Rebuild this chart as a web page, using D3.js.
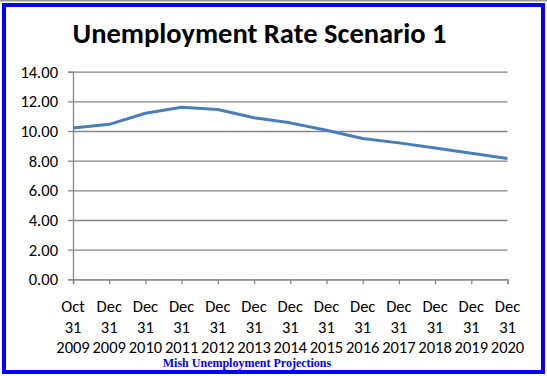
<!DOCTYPE html>
<html><head><meta charset="utf-8">
<script src="https://cdn.jsdelivr.net/npm/d3@7"></script>
<style>body{margin:0;background:#fff;} svg{display:block;}</style>
</head><body>
<script>
const months = ["Oct","Dec","Dec","Dec","Dec","Dec","Dec","Dec","Dec","Dec","Dec","Dec","Dec"];
const days = ["31","31","31","31","31","31","31","31","31","31","31","31","31"];
const years = ["2009","2009","2010","2011","2012","2013","2014","2015","2016","2017","2018","2019","2020"];
const rates = [10.2,10.45,11.2,11.6,11.45,10.9,10.55,10.05,9.5,9.2,8.85,8.5,8.15];
const yTicks = [0,2,4,6,8,10,12,14];
const title = "Unemployment Rate Scenario 1";
const subtitle = "Mish Unemployment Projections";

const W=547,H=376;
const svg=d3.select("body").append("svg").attr("width",W).attr("height",H);
svg.append("rect").attr("width",W).attr("height",H).attr("fill","#fff");
svg.append("line").attr("x1",0).attr("x2",W).attr("y1",0.5).attr("y2",0.5).attr("stroke","#9a9a9a").attr("stroke-width",2);
svg.append("rect").attr("x",4).attr("y",5).attr("width",539).attr("height",367)
  .attr("fill","#fff").attr("stroke","#0000ff").attr("stroke-width",4);

const L=73,R=507.5,T=71.7,B=279.3;
const x=d3.scalePoint().domain(d3.range(rates.length)).range([L,R]);
const y=d3.scaleLinear().domain([0,14]).range([B,T]);

const font="Carlito, Calibri, Lato, 'Open Sans', sans-serif";
svg.append("text").attr("x",259.5).attr("y",43).attr("text-anchor","middle")
  .attr("font-family",font).attr("font-weight","bold").attr("font-size",28.5).attr("fill","#000").text(title);

// gridlines
const grid=svg.append("g").attr("transform",`translate(${L},0)`)
  .call(d3.axisLeft(y).tickValues(yTicks).tickSize(-(R-L)).tickFormat(""));
grid.select(".domain").remove();
grid.selectAll(".tick line").attr("stroke","#868686").attr("stroke-width",1.3);

const gy=svg.append("g").attr("transform",`translate(${L},0)`)
  .call(d3.axisLeft(y).tickValues(yTicks).tickSize(5).tickFormat(d3.format(".2f")).tickPadding(10));
gy.select(".domain").attr("stroke","#868686").attr("stroke-width",1.3);
gy.selectAll(".tick line").attr("stroke","#868686").attr("stroke-width",1.3);
gy.selectAll(".tick text").attr("font-family",font).attr("font-size",16.5).attr("fill","#000").attr("dy","0.34em");

const gx=svg.append("g").attr("transform",`translate(0,${B})`).call(d3.axisBottom(x).tickSize(5).tickFormat(""));
gx.select(".domain").attr("stroke","#868686").attr("stroke-width",1.3);
gx.selectAll(".tick line").attr("stroke","#868686").attr("stroke-width",1.3);

const lab=svg.append("g").attr("font-family",font).attr("font-size",16.5).attr("fill","#000").attr("text-anchor","middle");
[months,days,years].forEach((arr,r)=>{
  lab.selectAll(null).data(arr).enter().append("text")
    .attr("x",(d,i)=>x(i)).attr("y",312+r*20.5).text(d=>d);
});

svg.append("path").datum(rates)
  .attr("d",d3.line().x((d,i)=>x(i)).y(d=>y(d)))
  .attr("fill","none").attr("stroke","#4a7ebb").attr("stroke-width",3).attr("stroke-linejoin","round");

svg.append("text").attr("x",247).attr("y",367).attr("text-anchor","middle")
  .attr("font-family","'Liberation Serif','Times New Roman',serif").attr("font-weight","bold").attr("font-size",12)
  .attr("fill","#0000ff").text(subtitle);
</script>
</body></html>
